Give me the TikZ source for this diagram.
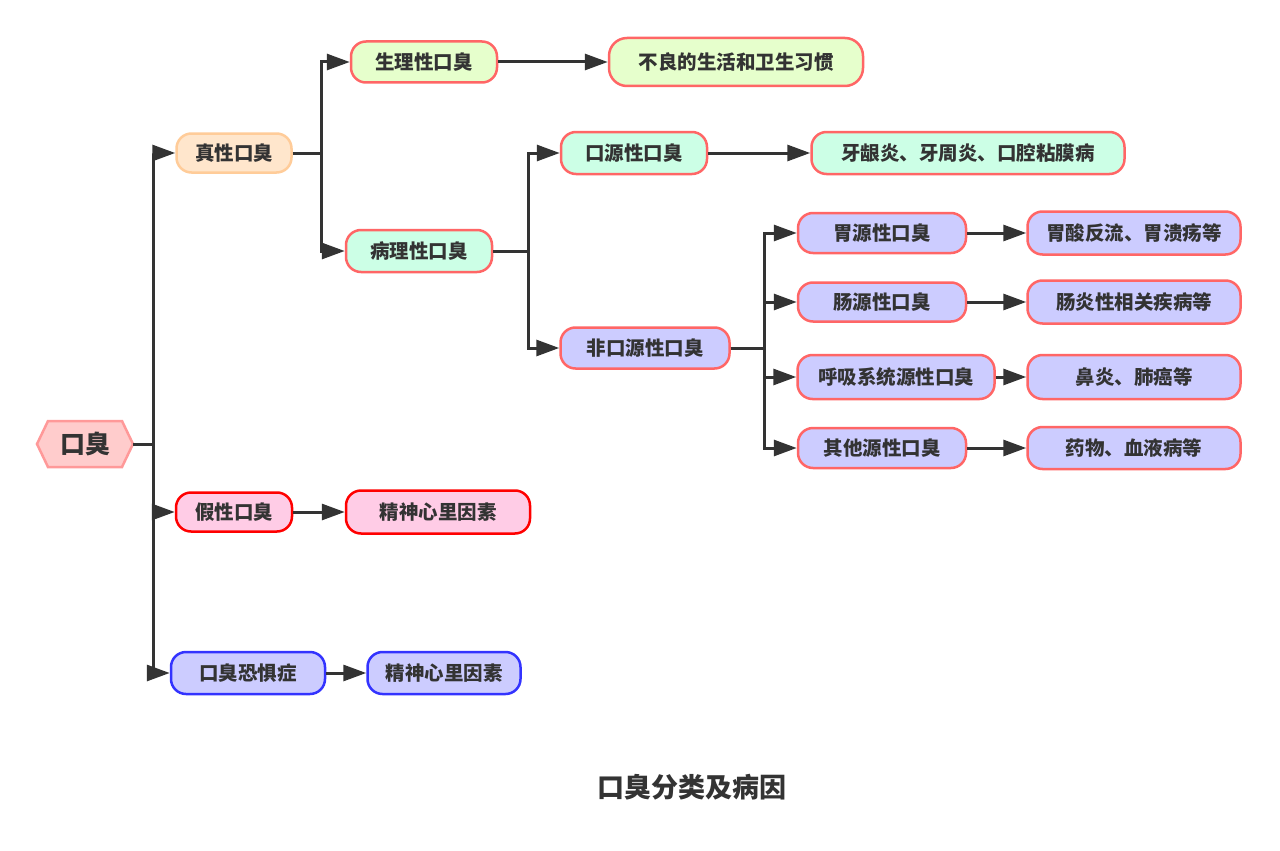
\documentclass[tikz,border=0pt]{standalone}
\usepackage{fontspec}
\setmainfont{Noto Sans CJK SC}
\usetikzlibrary{arrows.meta}
\definecolor{txt}{HTML}{333333}
\definecolor{ln}{HTML}{333333}
\definecolor{rootfill}{HTML}{FFCCCC}
\definecolor{rootdraw}{HTML}{FF9999}
\definecolor{orfill}{HTML}{FFE6CC}
\definecolor{ordraw}{HTML}{FFCC99}
\definecolor{lgfill}{HTML}{E6FFCC}
\definecolor{redline}{HTML}{FF6666}
\definecolor{mintfill}{HTML}{CCFFE6}
\definecolor{lavfill}{HTML}{CCCCFF}
\definecolor{pinkfill}{HTML}{FFCCE6}
\definecolor{strongred}{HTML}{FF0000}
\definecolor{strongblue}{HTML}{3333FF}
\begin{document}
\begin{tikzpicture}[x=1pt,y=-1pt,
  box/.style={rectangle, rounded corners=15pt, line width=2.5pt, minimum height=40pt,
    inner sep=0pt, font=\bfseries\fontsize{19.5}{19.5}\selectfont, text=txt},
  orbox/.style={box, fill=orfill, draw=ordraw},
  lgbox/.style={box, fill=lgfill, draw=redline},
  mintbox/.style={box, fill=mintfill, draw=redline},
  lavbox/.style={box, fill=lavfill, draw=redline},
  pinkbox/.style={box, fill=pinkfill, draw=strongred},
  bluebox/.style={box, fill=lavfill, draw=strongblue},
  conn/.style={draw=ln, line width=3pt, -{Triangle[length=23pt,width=16pt]}}
]
\fill[white] (0,0) rectangle (1280,851);
\useasboundingbox (0,0) rectangle (1280,851);

% root hexagon
\filldraw[fill=rootfill, draw=rootdraw, line width=2.5pt]
  (37,444) -- (48,421) -- (122,421) -- (133,444) -- (122,467) -- (48,467) -- cycle;
\node[rectangle, minimum width=96pt, minimum height=46pt, inner sep=0pt,
  font=\bfseries\fontsize{25}{25}\selectfont, text=txt] (root) at (85,444) {口臭};

% level 1
\node[orbox, minimum width=115pt, minimum height=39pt] (zx) at (234,153) {真性口臭};
\node[pinkbox, minimum width=116pt, minimum height=39pt] (jx) at (234,512) {假性口臭};
\node[bluebox, minimum width=154pt, minimum height=42pt] (kj) at (248,673) {口臭恐惧症};

% level 2
\node[lgbox, minimum width=146pt, minimum height=41pt] (sl) at (424,62) {生理性口臭};
\node[mintbox, minimum width=146pt, minimum height=42pt] (bl) at (419,251) {病理性口臭};
\node[pinkbox, minimum width=184pt, minimum height=43pt] (j1) at (438,512) {精神心里因素};
\node[bluebox, minimum width=153pt, minimum height=42pt] (j2) at (444,673) {精神心里因素};

% level 3
\node[lgbox, minimum width=254pt, minimum height=48pt, rounded corners=18pt] (bad) at (736,62) {不良的生活和卫生习惯};
\node[mintbox, minimum width=146pt, minimum height=42pt] (ky) at (634,153) {口源性口臭};
\node[lavbox, minimum width=169pt, minimum height=41pt] (fk) at (645,348) {非口源性口臭};

% level 4
\node[mintbox, minimum width=313pt, minimum height=42pt] (yy) at (968,153) {牙龈炎、牙周炎、口腔粘膜病};
\node[lavbox, minimum width=168pt, minimum height=40pt] (wy) at (882,233) {胃源性口臭};
\node[lavbox, minimum width=168pt, minimum height=39pt] (cy) at (882,302) {肠源性口臭};
\node[lavbox, minimum width=197pt, minimum height=44pt] (hx) at (896,377) {呼吸系统源性口臭};
\node[lavbox, minimum width=168pt, minimum height=40pt] (qt) at (882,448) {其他源性口臭};

% level 5
\node[lavbox, minimum width=213pt, minimum height=43pt] (wd) at (1134,233) {胃酸反流、胃溃疡等};
\node[lavbox, minimum width=213pt, minimum height=43pt] (cd) at (1134,302) {肠炎性相关疾病等};
\node[lavbox, minimum width=213pt, minimum height=44pt] (hd) at (1134,377) {鼻炎、肺癌等};
\node[lavbox, minimum width=213pt, minimum height=42pt] (qd) at (1134,448) {药物、血液病等};

% title
\node[font=\bfseries\fontsize{27}{27}\selectfont, text=txt] (title) at (692,787) {口臭分类及病因};

% connectors
\draw[conn] (root.east) -- ++(20,0) |- (zx.west);
\draw[conn] (root.east) -- ++(20,0) |- (jx.west);
\draw[conn] (root.east) -- ++(20,0) |- (kj.west);
\draw[conn] (zx.east) -- ++(29,0) |- (sl.west);
\draw[conn] (zx.east) -- ++(29,0) |- (bl.west);
\draw[conn] (sl.east) -- (bad.west);
\draw[conn] (bl.east) -- ++(35,0) |- (ky.west);
\draw[conn] (bl.east) -- ++(35,0) |- (fk.west);
\draw[conn] (ky.east) -- (yy.west);
\draw[conn] (fk.east) -- ++(34,0) |- (wy.west);
\draw[conn] (fk.east) -- ++(34,0) |- (cy.west);
\draw[conn] (fk.east) -- ++(34,0) |- (hx.west);
\draw[conn] (fk.east) -- ++(34,0) |- (qt.west);
\draw[conn] (wy.east) -- (wd.west);
\draw[conn] (cy.east) -- (cd.west);
\draw[conn] (hx.east) -- (hd.west);
\draw[conn] (qt.east) -- (qd.west);
\draw[conn] (jx.east) -- (j1.west);
\draw[conn] (kj.east) -- (j2.west);
\end{tikzpicture}
\end{document}
